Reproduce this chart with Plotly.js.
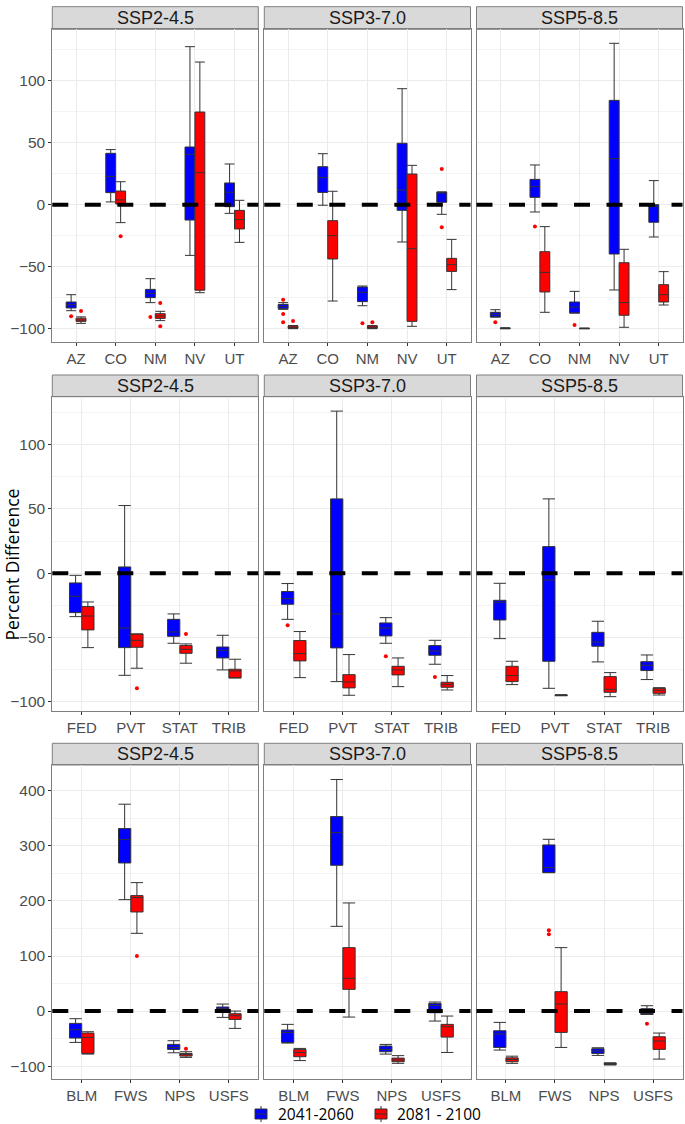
<!DOCTYPE html>
<html>
<head>
<meta charset="utf-8">
<script src="https://cdn.plot.ly/plotly-3.0.1.min.js"></script>
<style>html,body{margin:0;padding:0;background:#fff}#chart{width:685px;height:1124px}</style>
</head>
<body>
<div id="chart"></div>
<script>
// ---------- categories / labels ----------
const scenarios = ["SSP2-4.5", "SSP3-7.0", "SSP5-8.5"];
const periods = ["2041-2060", "2081 - 2100"];
const states = ["AZ", "CO", "NM", "NV", "UT"];
const owners = ["FED", "PVT", "STAT", "TRIB"];
const agencies = ["BLM", "FWS", "NPS", "USFS"];

// ---------- box stats: [lower whisker, q1, median, q3, upper whisker] per category ----------
// Row 1: states
const stSSP245Early = [[-85.5,-83.3,-80.6,-78.5,-72.6],[2.2,9.7,22.8,41.4,44.4],[-79,-75,-71.5,-68.3,-59.7],[-40.9,-12.4,40.6,46.5,127.4],[-7,-1.6,10,17.5,32.8]];
const stSSP245Late  = [[-95.7,-94.1,-93,-91.5,-90.5],[-14.5,0.5,3.8,11,18.5],[-93.5,-91.7,-89.8,-87.9,-86],[-71,-69,25.8,74.7,115],[-30.4,-19.6,-12.1,-4.6,3.5]];
const stSSP370Early = [[-84.4,-83.9,-82.3,-80.4,-79],[-0.5,9.9,21.8,30.6,41.1],[-81.5,-78.2,-70.7,-66.4,-65.6],[-30.1,-4.6,11.8,49.5,93.5],[-7.8,1.9,9.7,10.2,10.2]];
const stSSP370Late  = [[-100,-99.7,-98.9,-97.8,-97.5],[-77.7,-43.8,-25,-12.9,10.8],[-100,-99.7,-98.9,-97.8,-97.5],[-98.1,-94.1,-35.5,24.7,31.7],[-68.5,-53.8,-48.4,-43.3,-28]];
const stSSP585Early = [[-90.6,-90.6,-88.4,-86.8,-84.7],[-5.9,5.9,14.5,20.4,32],[-87.4,-87.4,-82.5,-78.5,-69.9],[-68.8,-39.8,37.1,84.1,130.1],[-26.1,-14.2,-1.6,0,19.4]];
const stSSP585Late  = [[-100,-100,-99.7,-99.5,-99.3],[-86.8,-70.4,-54.6,-37.9,-17.7],[-100,-100,-99.9,-99.7,-99.5],[-98.9,-89.2,-79,-46.8,-36],[-80.9,-78.5,-72.6,-64.5,-54]];
// outliers: [category index, value]
const stOutSSP245Early = [[0,-90],[2,-90.6]];
const stOutSSP245Late  = [[0,-85.8],[1,-25.5],[2,-79.3],[2,-98.1]];
const stOutSSP370Early = [[0,-76.6],[0,-88.2],[0,-94.9],[2,-95.7],[4,28.8],[4,-18.3]];
const stOutSSP370Late  = [[0,-93.8],[2,-94.9]];
const stOutSSP585Early = [[0,-94.9],[1,-17.7],[2,-97]];
const stOutSSP585Late  = [];

// Row 2: ownership
const owSSP245Early = [[-33.7,-30.6,-17.9,-7.5,-1.6],[-79.3,-57.8,-42.5,4.9,52.6],[-54.4,-49,-45.6,-35.8,-31.6],[-75.1,-65.8,-59.8,-57.3,-48.2]];
const owSSP245Late  = [[-57.8,-44,-33.2,-25.9,-22.3],[-73.8,-57.5,-52.1,-47.2,-47.2],[-69.9,-62.2,-59.1,-56.2,-54.9],[-81.3,-81.3,-75.9,-74.6,-66.8]];
const owSSP370Early = [[-35.8,-24.1,-19.7,-14.2,-8],[-84.2,-58,-31.6,57.8,126],[-54.4,-48.7,-42.5,-38.6,-34.5],[-70.7,-63.7,-60.4,-56.2,-52.1]];
const owSSP370Late  = [[-81.1,-68.1,-62.4,-52.3,-45.3],[-94.8,-89.1,-84.5,-78.8,-63.2],[-88.1,-79,-75.1,-72.3,-65.8],[-90.7,-88.6,-86.3,-84.7,-79.5]];
const owSSP585Early = [[-50.8,-36.3,-22.5,-21,-7.8],[-89.4,-68.4,-5.2,20.7,57.8],[-68.9,-56.7,-53.4,-45.9,-37.3],[-82.6,-75.6,-71.5,-68.7,-63.5]];
const owSSP585Late  = [[-86.5,-84.2,-79.5,-72.3,-68.4],[-95.2,-95,-94.8,-94.6,-94.4],[-95.9,-92.5,-90.2,-80.3,-77.2],[-94.6,-93.3,-90.9,-89.4,-88.9]];
const owOutSSP245Early = [];
const owOutSSP245Late  = [[1,-89.4],[2,-47.2]];
const owOutSSP370Early = [[0,-40.4],[2,-64.5],[3,-80.6]];
const owOutSSP370Late  = [];
const owOutSSP585Early = [];
const owOutSSP585Late  = [];

// Row 3: agencies
const agSSP245Early = [[-57,-49.1,-33.9,-22.4,-13.9],[202.4,269,311.5,331.5,375.8],[-75.8,-69.7,-66,-60.6,-53.9],[-11.5,-1.8,4.2,7.3,12.7]];
const agSSP245Late  = [[-78.2,-77,-47.9,-40,-37.6],[141.2,180,206,209.7,233.3],[-84.2,-81.8,-78.8,-77,-73.9],[-31.5,-15.2,-8.5,-4.8,0]];
const agSSP370Early = [[-58.2,-57,-38.8,-34.5,-24.2],[153.9,264.8,324.2,353.3,420.6],[-78.2,-73.9,-69.7,-63.6,-60.6],[-18.2,-3,10.3,13.9,16.4]];
const agSSP370Late  = [[-90,-83,-75.2,-69.7,-67.9],[-10.9,39.4,59.4,115.2,196.4],[-95,-92,-89,-85.5,-81],[-75.2,-47.3,-28.5,-24.2,-9.1]];
const agSSP585Early = [[-70.9,-66.1,-41.8,-35.8,-20.6],[251.5,251.5,260.6,301.8,312],[-80.6,-77,-72.7,-68.5,-66.7],[-6.1,-6.1,-4.2,4.2,9.7]];
const agSSP585Late  = [[-95,-92,-88,-85,-82],[-66.1,-38.8,12.7,35.2,115.2],[-98,-97,-96,-95,-94],[-87.3,-69.7,-54.5,-46.7,-40]];
const agOutSSP245Early = [];
const agOutSSP245Late  = [[1,100],[2,-68.5]];
const agOutSSP370Early = [];
const agOutSSP370Late  = [];
const agOutSSP585Early = [[1,146.7],[1,139.4],[3,-23]];
const agOutSSP585Late  = [];

// y ranges / tick spacing per row
const rowYRange = [[-110.5, 141.4], [-106.8, 137.2], [-124, 447]];
const rowDtick = [50, 50, 100];

// ---------- assemble ----------
const rowsDef = [
  {cats: states, boxes: [[stSSP245Early, stSSP245Late],[stSSP370Early, stSSP370Late],[stSSP585Early, stSSP585Late]],
   outs: [[stOutSSP245Early, stOutSSP245Late],[stOutSSP370Early, stOutSSP370Late],[stOutSSP585Early, stOutSSP585Late]]},
  {cats: owners, boxes: [[owSSP245Early, owSSP245Late],[owSSP370Early, owSSP370Late],[owSSP585Early, owSSP585Late]],
   outs: [[owOutSSP245Early, owOutSSP245Late],[owOutSSP370Early, owOutSSP370Late],[owOutSSP585Early, owOutSSP585Late]]},
  {cats: agencies, boxes: [[agSSP245Early, agSSP245Late],[agSSP370Early, agSSP370Late],[agSSP585Early, agSSP585Late]],
   outs: [[agOutSSP245Early, agOutSSP245Late],[agOutSSP370Early, agOutSSP370Late],[agOutSSP585Early, agOutSSP585Late]]}
];

const W = 685, H = 1124;
const colPx = [[52.3, 258.3], [264.3, 470.5], [476.5, 682.5]];
const rowPx = [[29.3, 341.7], [396.7, 710.7], [765, 1079.3]];
const stripPx = [[6.7, 29.3], [375, 396.7], [743.3, 765]];
const fills = ["#0000FF", "#FF0000"];
const offs = [-0.125, 0.125];
const tickFont = {family: "Liberation Sans, Arial, sans-serif", size: 15, color: "#4d4d4d"};
const borderColor = "#7f7f7f";
const outlineColor = "#333333";

const traces = [];
const layout = {
  width: W, height: H,
  margin: {l: 0, r: 0, t: 0, b: 0},
  paper_bgcolor: "#ffffff", plot_bgcolor: "#ffffff",
  showlegend: false,
  shapes: [], annotations: []
};

let n = 0;
rowsDef.forEach((row, r) => {
  const nc = row.cats.length;
  scenarios.forEach((scen, c) => {
    n += 1;
    const xa = "x" + (n === 1 ? "" : n), ya = "y" + (n === 1 ? "" : n);
    const xk = "xaxis" + (n === 1 ? "" : n), yk = "yaxis" + (n === 1 ? "" : n);
    layout[xk] = {
      domain: [colPx[c][0] / W, colPx[c][1] / W], anchor: ya,
      range: [0.4, nc + 0.6], tickmode: "array",
      tickvals: row.cats.map((_, i) => i + 1), ticktext: row.cats,
      showgrid: true, gridcolor: "#ebebeb", gridwidth: 1, zeroline: false,
      ticks: "outside", ticklen: 3, tickcolor: "#333", tickfont: tickFont,
      showline: true, mirror: true, linecolor: borderColor, linewidth: 1, fixedrange: true
    };
    layout[yk] = {
      domain: [1 - rowPx[r][1] / H, 1 - rowPx[r][0] / H], anchor: xa,
      range: rowYRange[r], tickmode: "linear", tick0: 0, dtick: rowDtick[r],
      showgrid: true, gridcolor: "#ebebeb", gridwidth: 1, zeroline: false,
      minor: {dtick: rowDtick[r] / 2, tick0: 0, showgrid: true, gridcolor: "#f3f3f3", gridwidth: 1, ticks: ""},
      showticklabels: c === 0, ticks: c === 0 ? "outside" : "", ticklen: 3, tickcolor: "#333",
      tickfont: Object.assign({}, tickFont, {size: 15.5}), showline: true, mirror: true,
      linecolor: borderColor, linewidth: 1, fixedrange: true
    };
    // boxes
    [0, 1].forEach(s => {
      const st = row.boxes[c][s];
      traces.push({
        type: "box", orientation: "v", xaxis: xa, yaxis: ya,
        name: periods[s], legendgroup: periods[s], showlegend: false,
        x: row.cats.map((_, i) => i + 1 + offs[s]),
        lowerfence: st.map(v => v[0]), q1: st.map(v => v[1]), median: st.map(v => v[2]),
        q3: st.map(v => v[3]), upperfence: st.map(v => v[4]),
        width: 0.25, whiskerwidth: 1, boxpoints: false,
        fillcolor: fills[s], line: {color: outlineColor, width: 1}, hoverinfo: "skip"
      });
    });
    // outliers
    [0, 1].forEach(s => {
      const o = row.outs[c][s];
      if (!o.length) return;
      traces.push({
        type: "scatter", mode: "markers", xaxis: xa, yaxis: ya, showlegend: false,
        x: o.map(p => p[0] + 1 + offs[s]), y: o.map(p => p[1]),
        marker: {color: "#FF0000", size: 4}, hoverinfo: "skip"
      });
    });
    // dashed zero line
    layout.shapes.push({
      type: "line", xref: xa + " domain", yref: ya, x0: 0, x1: 1, y0: 0, y1: 0,
      line: {color: "#000", width: 4, dash: "16px,16.5px"}, layer: "above"
    });
    // strip
    layout.shapes.push({
      type: "rect", xref: "paper", yref: "paper",
      x0: colPx[c][0] / W, x1: colPx[c][1] / W,
      y0: 1 - stripPx[r][1] / H, y1: 1 - stripPx[r][0] / H,
      fillcolor: "#d9d9d9", line: {color: borderColor, width: 1}, layer: "below"
    });
    layout.annotations.push({
      xref: "paper", yref: "paper", x: (colPx[c][0] + colPx[c][1]) / 2 / W,
      y: 1 - (stripPx[r][0] + stripPx[r][1]) / 2 / H, text: scen, showarrow: false,
      xanchor: "center", yanchor: "middle",
      font: {family: "Liberation Sans, Arial, sans-serif", size: 18, color: "#1a1a1a"}
    });
  });
});

// y-axis title
layout.annotations.push({
  xref: "paper", yref: "paper", x: 11.5 / W, y: 1 - 565 / H, text: "Percent Difference",
  textangle: -90, showarrow: false, xanchor: "center", yanchor: "middle",
  font: {family: "Open Sans, sans-serif", size: 17.5, color: "#000"}
});

// legend (keys drawn as small boxes with a median line)
const legendKeyX = [255, 375];
const legendTextX = [277, 396];
const legendY = 1114;
periods.forEach((p, s) => {
  const kx = legendKeyX[s];
  layout.shapes.push({type: "line", xref: "paper", yref: "paper",
    x0: (kx + 6) / W, x1: (kx + 6) / W, y0: 1 - (legendY + 8) / H, y1: 1 - (legendY - 8) / H,
    line: {color: outlineColor, width: 1}});
  layout.shapes.push({type: "rect", xref: "paper", yref: "paper",
    x0: kx / W, x1: (kx + 12) / W, y0: 1 - (legendY + 5) / H, y1: 1 - (legendY - 5) / H,
    fillcolor: fills[s], line: {color: outlineColor, width: 1}});
  layout.shapes.push({type: "line", xref: "paper", yref: "paper",
    x0: kx / W, x1: (kx + 12) / W, y0: 1 - legendY / H, y1: 1 - legendY / H,
    line: {color: outlineColor, width: 1}});
  layout.annotations.push({xref: "paper", yref: "paper", x: legendTextX[s] / W, y: 1 - legendY / H,
    text: p, showarrow: false, xanchor: "left", yanchor: "middle", borderpad: 0,
    font: {family: "Open Sans, sans-serif", size: 15.5, color: "#000"}});
});

Plotly.newPlot("chart", traces, layout, {staticPlot: true, displayModeBar: false});
</script>
</body>
</html>
